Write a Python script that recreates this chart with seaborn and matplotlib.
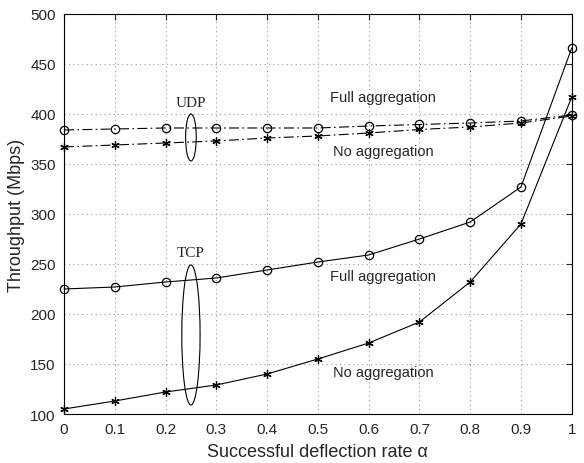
import numpy as np
import pandas as pd
import matplotlib
matplotlib.use('Agg')
import matplotlib.pyplot as plt
import seaborn as sns
from matplotlib.patches import Ellipse

# data
alpha = [0, 0.1, 0.2, 0.3, 0.4, 0.5, 0.6, 0.7, 0.8, 0.9, 1.0]
udp_full = [384, 385, 386, 386, 386, 386, 388, 389.5, 391, 393, 399]
udp_none = [367, 369, 371, 373, 376, 378, 381, 384.5, 387, 391, 398]
tcp_full = [225, 227, 232, 236, 244, 252, 259, 275, 292, 327, 466]
tcp_none = [105, 113, 122, 129, 140, 155, 171, 192, 232, 290, 417]

sns.set_style("white")
plt.rcParams['font.family'] = ['Liberation Sans', 'DejaVu Sans']

fig = plt.figure(figsize=(5.84, 4.64), dpi=100)
ax = fig.add_axes([0.1096, 0.1056, 0.8694, 0.8621])

star = (6, 2, 0)  # asterisk like the matlab '*' marker
dashdot = (0, (9, 3, 1.5, 3))
series = [(udp_full, 'o', dashdot),
          (udp_none, star, dashdot),
          (tcp_full, 'o', '-'),
          (tcp_none, star, '-')]
for vals, mk, ls in series:
    df = pd.DataFrame({'alpha': alpha, 'thr': vals})
    sns.lineplot(data=df, x='alpha', y='thr', ax=ax, color='black', linewidth=0.8,
                 linestyle=ls, marker=mk, markersize=6,
                 markerfacecolor='none' if mk == 'o' else 'black',
                 markeredgecolor='black', markeredgewidth=0.9, clip_on=False)

ax.set_xlim(0, 1)
ax.set_ylim(100, 500)
ax.set_xticks(alpha)
ax.set_xticklabels(['0', '0.1', '0.2', '0.3', '0.4', '0.5', '0.6', '0.7', '0.8', '0.9', '1'])
ax.set_yticks(np.arange(100, 501, 50))
ax.grid(True, linestyle=(0, (1, 3)), color='#999999', linewidth=0.8)
ax.tick_params(direction='in', length=4, labelsize=11, top=True, right=True, pad=6)
for s in ax.spines.values():
    s.set_color('black')
    s.set_linewidth(0.8)

ax.set_xlabel('Successful deflection rate α', fontsize=13, labelpad=5)
ax.set_ylabel('Throughput (Mbps)', fontsize=13, labelpad=4)

# annotations
ax.add_patch(Ellipse((0.25, 376.5), 0.021, 47, fill=False, edgecolor='black', linewidth=0.8))
ax.add_patch(Ellipse((0.25, 179), 0.036, 140, fill=False, edgecolor='black', linewidth=0.8))
ax.text(0.25, 411, 'UDP', family='Liberation Serif', fontsize=11, ha='center', va='center')
ax.text(0.25, 261, 'TCP', family='Liberation Serif', fontsize=11, ha='center', va='center')
ax.text(0.628, 417, 'Full aggregation', fontsize=10.5, ha='center', va='center')
ax.text(0.628, 363, 'No aggregation', fontsize=10.5, ha='center', va='center')
ax.text(0.628, 238, 'Full aggregation', fontsize=10.5, ha='center', va='center')
ax.text(0.628, 142, 'No aggregation', fontsize=10.5, ha='center', va='center')

fig.savefig('out.png', dpi=100)
